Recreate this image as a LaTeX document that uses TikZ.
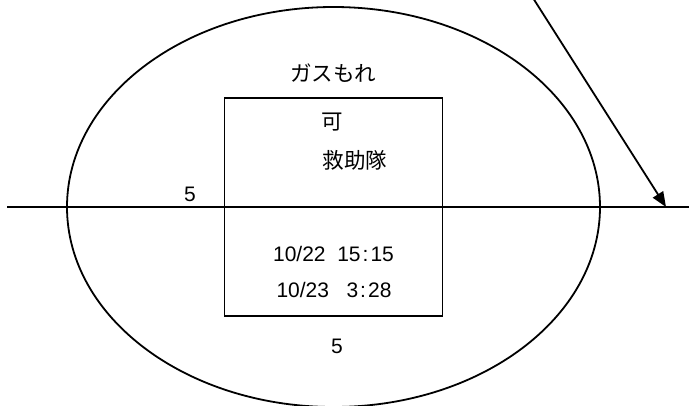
\documentclass[tikz,border=0pt]{standalone}
\usepackage{fontspec}
\setmainfont{Liberation Sans}
\newfontfamily\jp{Noto Sans CJK JP}
\usetikzlibrary{arrows.meta,shapes.geometric}
\begin{document}
\begin{tikzpicture}[x=1pt,y=-1pt,
  line/.style={line width=1.8pt},
  txt/.style={inner sep=0pt,font=\fontsize{21}{24}\selectfont},
  jtxt/.style={inner sep=0pt,font=\fontsize{21.5}{24}\selectfont\jp}]
\useasboundingbox (0,0) rectangle (689,405);
\node[line,draw,ellipse,minimum width=533pt,minimum height=400pt,inner sep=0pt] (oval) at (333.5,207) {};
\node[line,draw,rectangle,minimum width=218pt,minimum height=218pt,inner sep=0pt] (box) at (333.5,207) {};
\coordinate (hl) at (7,207);
\coordinate (hr) at (689,207);
\draw[line] (hl) -- (hr);
\coordinate (as) at (533,-2);
\coordinate (ae) at (666,207);
\draw[line,-{Triangle[length=15pt,width=12pt]}] (as) -- (ae);
\node[jtxt] (gas) at (333,73) {ガスもれ};
\node[jtxt] (ka) at (332,122) {可};
\node[jtxt] (kyu) at (355,160) {救助隊};
\node[txt] (fivea) at (190,194) {5};
\node[txt] (t1) at (333.5,254) {10/22\ \ 15\kern2pt:\kern2pt15};
\node[txt] (t2) at (334,290) {10/23\ \ \ 3\kern2pt:\kern2pt28};
\node[txt] (fiveb) at (337,346) {5};
\end{tikzpicture}
\end{document}
